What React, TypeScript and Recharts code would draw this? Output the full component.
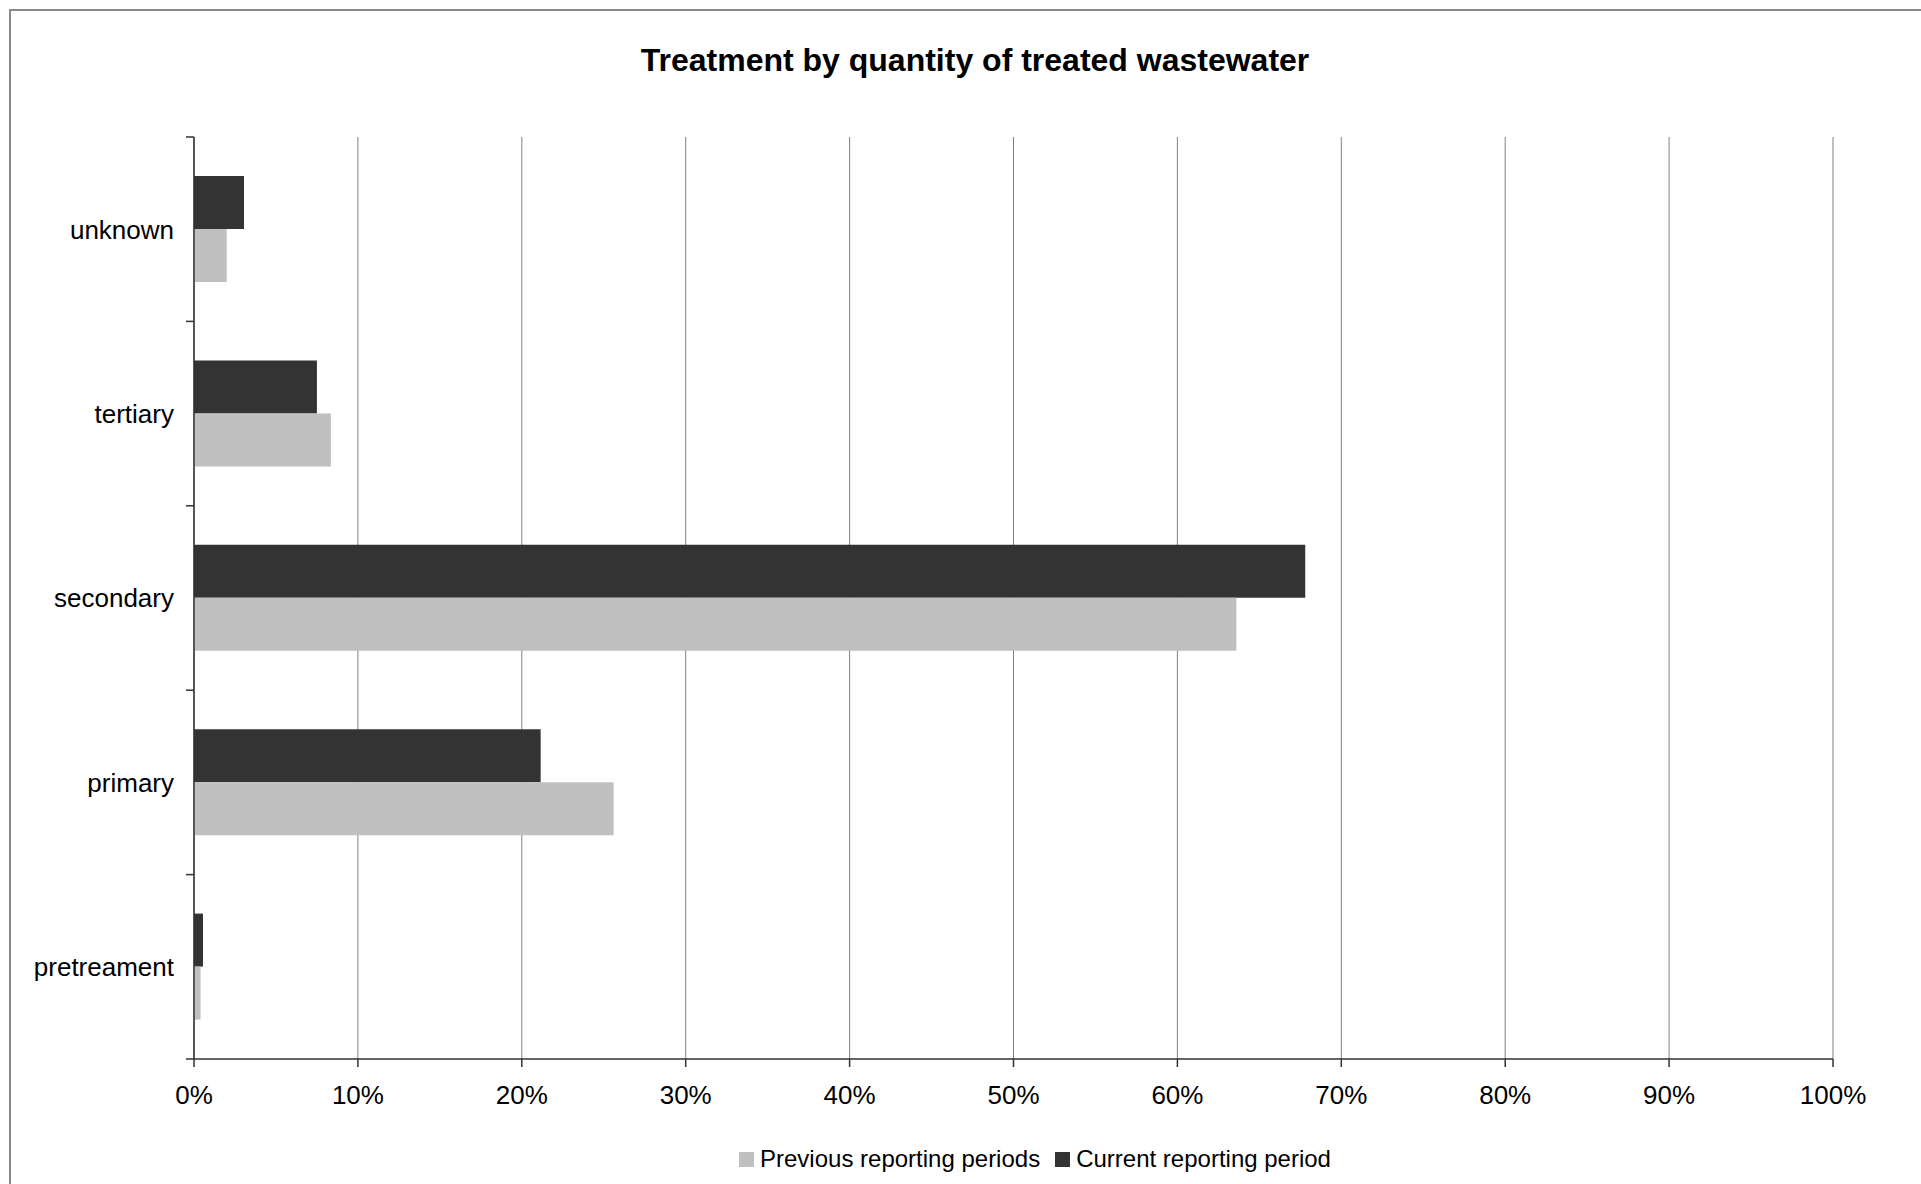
import React from 'react';
import { BarChart, Bar, XAxis, YAxis, CartesianGrid, Legend } from 'recharts';

const categories = ['unknown', 'tertiary', 'secondary', 'primary', 'pretreament'];
const currentPeriod = [3.05, 7.5, 67.8, 21.15, 0.55];
const previousPeriods = [2.0, 8.35, 63.6, 25.6, 0.4];
const percentTicks = [0, 10, 20, 30, 40, 50, 60, 70, 80, 90, 100];

const data = categories.map((name, i) => ({
    name,
    current: currentPeriod[i],
    previous: previousPeriods[i],
}));

const FONT = '"Liberation Sans", Arial, sans-serif';
const DARK = '#333333';
const LIGHT = '#c0c0c0';

// category label plus a small tick at each band boundary
const CategoryTick = (props: any) => {
    const { x, y, payload, index, visibleTicksCount } = props;
    const half = payload && payload.offset ? payload.offset : 92;
    const axisX = x + 20;
    const last = index === (visibleTicksCount ?? categories.length) - 1;
    return (
        <g>
            <line x1={axisX - 8} x2={axisX} y1={y - half} y2={y - half} stroke={DARK} strokeWidth={1.5} />
            {last && <line x1={axisX - 8} x2={axisX} y1={y + half} y2={y + half} stroke={DARK} strokeWidth={1.5} />}
            <text x={x} y={y} dy="0.36em" textAnchor="end" fill="#000" fontSize={26} fontFamily={FONT}>
                {payload.value}
            </text>
        </g>
    );
};

const legendItems = [
    { label: 'Previous reporting periods', color: LIGHT },
    { label: 'Current reporting period', color: DARK },
];

const renderLegend = () => (
    <div style={{ display: 'flex', alignItems: 'center', height: 30, fontFamily: FONT, fontSize: 24, color: '#000' }}>
        {legendItems.map((item) => (
            <div key={item.label} style={{ display: 'flex', alignItems: 'center', marginRight: 15 }}>
                <span style={{ display: 'inline-block', width: 15, height: 15, background: item.color, marginRight: 6 }} />
                <span style={{ lineHeight: '24px' }}>{item.label}</span>
            </div>
        ))}
    </div>
);

export default function App() {
    return (
        <div style={{ position: 'relative', width: 1921, height: 1184, overflow: 'hidden', background: '#fff' }}>
            <style>{'body{margin:0;overflow:hidden;}'}</style>
            <div
                style={{
                    position: 'absolute',
                    left: 9,
                    top: 9,
                    width: 1920,
                    height: 1180,
                    borderLeft: '2px solid #8a8a8a',
                    borderTop: '2px solid #8a8a8a',
                }}
            />
            <div
                style={{
                    position: 'absolute',
                    left: 0,
                    width: 1950,
                    top: 44,
                    textAlign: 'center',
                    fontFamily: FONT,
                    fontWeight: 'bold',
                    fontSize: 32,
                    lineHeight: '32px',
                    color: '#000',
                }}
            >
                Treatment by quantity of treated wastewater
            </div>
            <div style={{ position: 'absolute', left: 0, top: 0 }}>
                <BarChart
                    width={1921}
                    height={1184}
                    data={data}
                    layout="vertical"
                    barGap={0}
                    barSize={53}
                    margin={{ top: 137, right: 88, left: 10, bottom: 10 }}
                >
                    <CartesianGrid horizontal={false} stroke="#808080" strokeWidth={1} />
                    <XAxis
                        type="number"
                        domain={[0, 100]}
                        ticks={percentTicks}
                        tickFormatter={(v: number) => `${v}%`}
                        height={85}
                        axisLine={{ stroke: DARK, strokeWidth: 1.5 }}
                        tickLine={{ stroke: DARK, strokeWidth: 1.5 }}
                        tickSize={8}
                        tickMargin={19}
                        tick={{ fill: '#000', fontSize: 26, fontFamily: FONT }}
                        interval={0}
                    />
                    <XAxis
                        xAxisId="top"
                        type="number"
                        orientation="top"
                        domain={[0, 100]}
                        height={0}
                        tick={false}
                        tickLine={false}
                        axisLine={{ stroke: '#8a8a8a', strokeWidth: 2 }}
                    />
                    <YAxis
                        type="category"
                        dataKey="name"
                        width={184}
                        axisLine={{ stroke: DARK, strokeWidth: 1.5 }}
                        tickLine={false}
                        tickSize={8}
                        tickMargin={12}
                        tick={<CategoryTick />}
                        interval={0}
                    />
                    <Legend
                        verticalAlign="bottom"
                        height={30}
                        content={renderLegend}
                        wrapperStyle={{ left: 739, bottom: 10, width: 700 }}
                    />
                    <Bar dataKey="current" name="Current reporting period" fill={DARK} isAnimationActive={false} />
                    <Bar dataKey="previous" name="Previous reporting periods" fill={LIGHT} isAnimationActive={false} />
                </BarChart>
            </div>
        </div>
    );
}
